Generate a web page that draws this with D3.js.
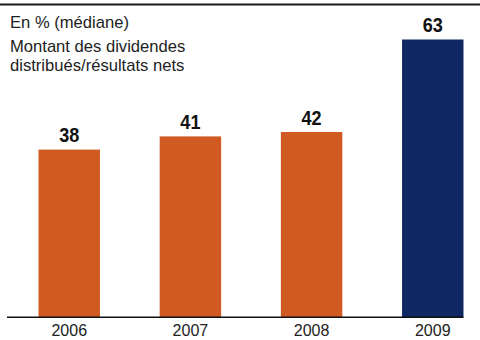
<!DOCTYPE html>
<html>
<head>
<meta charset="utf-8">
<script src="https://cdn.jsdelivr.net/npm/d3@7"></script>
<style>
  body { margin: 0; background: #fff; }
  svg { display: block; }
  text { font-family: "Liberation Sans", Arial, sans-serif; }
</style>
</head>
<body>
<svg id="chart"></svg>
<script>
let years = ['2006', '2007', '2008', '2009'];
let values = [38, 41, 42, 63];
let barColors = ['#d15a22', '#d15a22', '#d15a22', '#0f2762'];
let titleLines = ['En % (médiane)', 'Montant des dividendes', 'distribués/résultats nets'];

let width = 480;
let height = 340;
let margin = {top: 39.5, right: 0, bottom: 23, left: 7};

let svg = d3.select('#chart').attr('width', width).attr('height', height);

// scales
let xScale = d3.scaleBand().domain(years).range([margin.left, 495])
    .paddingInner(0.493).paddingOuter(0.26);
let yScale = d3.scaleLinear().domain([0, 63]).range([height - margin.bottom, margin.top]);

// top rule
svg.append('line')
    .attr('x1', 0).attr('x2', width)
    .attr('y1', 4.5).attr('y2', 4.5)
    .style('stroke', '#1a1a1a').style('stroke-width', 2);

// bars
svg.selectAll('.bar').data(values).enter().append('rect')
    .attr('class', 'bar')
    .attr('x', (d, i) => xScale(years[i]))
    .attr('y', d => yScale(d))
    .attr('width', xScale.bandwidth())
    .attr('height', d => yScale(0) - yScale(d))
    .style('fill', (d, i) => barColors[i]);

// value labels (condensed look)
svg.selectAll('.val').data(values).enter().append('text')
    .attr('class', 'val')
    .attr('transform', (d, i) => 'translate(' + (xScale(years[i]) + xScale.bandwidth() / 2) + ',' + (yScale(d) - 7.5) + ') scale(0.86,1)')
    .attr('text-anchor', 'middle')
    .style('font-size', '21px').style('font-weight', 'bold').style('fill', '#111')
    .text(d => d);

// baseline axis
let xAxis = svg.append('g')
    .attr('transform', 'translate(0,' + yScale(0) + ')')
    .call(d3.axisBottom(xScale).tickSize(0).tickPadding(0));
xAxis.select('.domain').attr('d', 'M' + margin.left + ',0.3H' + (xScale('2009') + xScale.bandwidth()))
    .style('stroke', '#111').style('stroke-width', 1.5);
xAxis.selectAll('text')
    .attr('y', 19).attr('dy', 0)
    .style('font-family', '"Liberation Sans", Arial, sans-serif')
    .style('font-size', '16px').style('fill', '#222');

// title
let titleY = [27.5, 52, 70.5];
svg.selectAll('.title').data(titleLines).enter().append('text')
    .attr('class', 'title')
    .attr('x', 10)
    .attr('y', (d, i) => titleY[i])
    .style('font-size', '16.6px').style('fill', '#222')
    .text(d => d);
</script>
</body>
</html>
